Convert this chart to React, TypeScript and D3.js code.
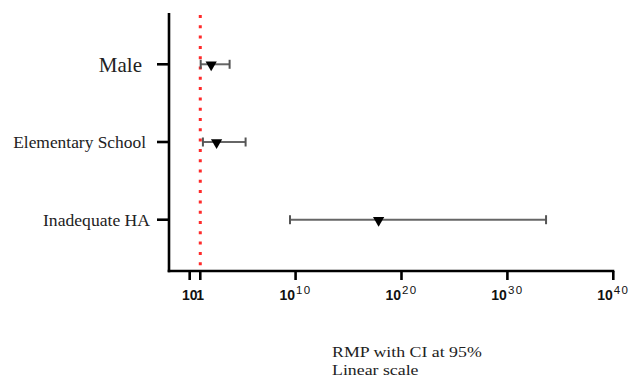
import * as d3 from "d3";
import React from "react";

// rows, top to bottom
const categories = ["Male", "Elementary School", "Inadequate HA"];
// point estimate and 95% CI, as log10 exponents
const estExp = [2.03, 2.54, 17.84];
const lowExp = [1.04, 1.25, 9.47];
const highExp = [3.77, 5.28, 33.65];

const tickExps = [0, 1, 10, 20, 30, 40];
const tickBase = ["10", "1", "10", "10", "10", "10"];
const tickSup = ["", "", "10", "20", "30", "40"];
const refExp = 1; // red dotted reference line

const W = 632;
const H = 381;

export default function App() {
  const m = { top: 13, left: 169, right: 613, bottom: 271 };

  const x = d3
    .scaleLog()
    .domain([1e-2, 1e40])
    .range([168.5, 613.3]);

  const y = d3
    .scalePoint<string>()
    .domain(categories)
    .range([m.top, m.bottom])
    .padding(0.66);

  // label sizes / right edges differ per row in the original
  const labelSize: Record<string, number> = {
    Male: 21,
    "Elementary School": 17.4,
    "Inadequate HA": 17.6,
  };
  const labelGap: Record<string, number> = {
    Male: 27,
    "Elementary School": 23,
    "Inadequate HA": 19,
  };

  const tri = d3.symbol().type(d3.symbolTriangle).size(55);
  const serif = "'Liberation Serif', 'Times New Roman', serif";

  return (
    <div style={{ position: "absolute", left: 0, top: 0 }}>
      <svg width={W} height={H} style={{ display: "block", background: "#fff" }}>
        {/* reference line */}
        <line
          x1={x(Math.pow(10, refExp))}
          x2={x(Math.pow(10, refExp))}
          y1={m.top + 2}
          y2={m.bottom - 2}
          stroke="#ff2a2a"
          strokeWidth={3}
          strokeDasharray="3 7.3"
        />

        {/* error bars + markers */}
        {categories.map((c, i) => {
          const cy = y(c)!;
          const x0 = x(Math.pow(10, lowExp[i]));
          const x1 = x(Math.pow(10, highExp[i]));
          const cx = x(Math.pow(10, estExp[i]));
          return (
            <g key={c}>
              <line x1={x0} x2={x1} y1={cy} y2={cy} stroke="#666" strokeWidth={2} />
              <line x1={x0} x2={x0} y1={cy - 4.5} y2={cy + 4.5} stroke="#555" strokeWidth={2} />
              <line x1={x1} x2={x1} y1={cy - 4.5} y2={cy + 4.5} stroke="#555" strokeWidth={2} />
              <path
                d={tri() ?? undefined}
                transform={`translate(${cx},${cy + 0.5}) rotate(180)`}
                fill="#000"
              />
            </g>
          );
        })}

        {/* y axis */}
        <line x1={m.left} x2={m.left} y1={m.top} y2={m.bottom + 1.2} stroke="#000" strokeWidth={2.6} />
        {categories.map((c) => (
          <g key={c}>
            <line x1={m.left - 12} x2={m.left} y1={y(c)} y2={y(c)} stroke="#000" strokeWidth={2.6} />
            <text
              x={m.left - labelGap[c]}
              y={y(c)}
              dy="0.35em"
              textAnchor="end"
              fontFamily={serif}
              fontSize={labelSize[c]}
              fill="#222"
            >
              {c}
            </text>
          </g>
        ))}

        {/* x axis */}
        <line x1={m.left - 1.3} x2={m.right + 1.3} y1={m.bottom} y2={m.bottom} stroke="#000" strokeWidth={2.6} />
        {tickExps.map((e, i) => {
          const tx = x(Math.pow(10, e));
          return (
            <g key={e}>
              <line x1={tx} x2={tx} y1={m.bottom} y2={m.bottom + 9} stroke="#000" strokeWidth={2.6} />
              <text
                x={tx}
                y={300}
                textAnchor="middle"
                fontFamily="'Liberation Sans', Arial, sans-serif"
                fontWeight="bold"
                fontSize={14}
                fill="#111"
              >
                {tickBase[i]}
                {tickSup[i] && (
                  <tspan dx={1} dy={-6} fontSize={11.5} fontWeight="normal" letterSpacing={1.4}>
                    {tickSup[i]}
                  </tspan>
                )}
              </text>
            </g>
          );
        })}

        {/* axis title (stretched horizontally like the original) */}
        <g transform="translate(332,0) scale(1.15,1)">
          <text x={0} y={357.5} fontFamily={serif} fontSize={15.5} fill="#222">
            RMP with CI at 95%
          </text>
          <text x={0} y={375} fontFamily={serif} fontSize={15.5} fill="#222">
            Linear scale
          </text>
        </g>
      </svg>
    </div>
  );
}
